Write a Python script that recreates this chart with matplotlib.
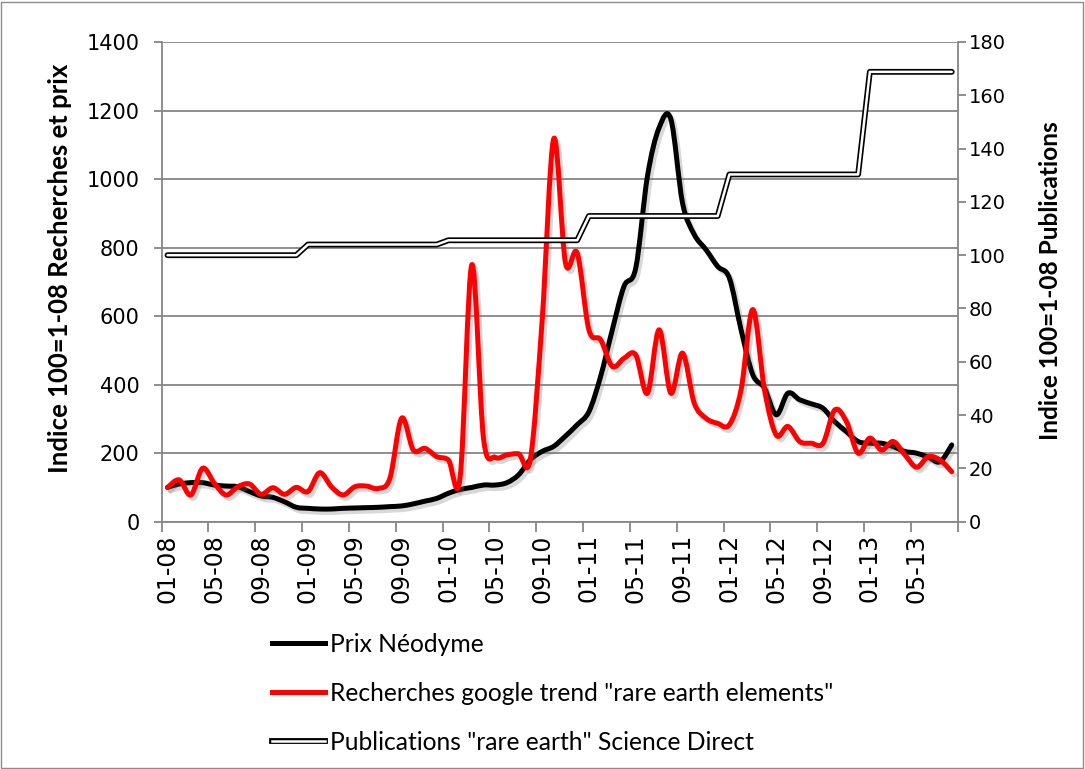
import numpy as np
import matplotlib
matplotlib.use('Agg')
import matplotlib.pyplot as plt
from matplotlib.path import Path
from matplotlib.patches import PathPatch, Rectangle
from matplotlib.lines import Line2D
import matplotlib.patheffects as pe

# monthly data, 01-2008 .. 08-2013 (index 100 = 01-08)
tick_labels = ['01-08', '05-08', '09-08', '01-09', '05-09', '09-09', '01-10', '05-10',
               '09-10', '01-11', '05-11', '09-11', '01-12', '05-12', '09-12', '01-13', '05-13']

prix = [100, 110, 114, 114, 107, 104, 102, 88, 75, 71, 58, 42, 39, 37, 37, 39,
        40, 41, 42, 44, 46, 52, 60, 68, 83, 94, 100, 107, 107, 114, 137, 181,
        205, 220, 250, 283, 321, 424, 560, 687, 740, 1008, 1150, 1175, 930, 838, 794, 745,
        711, 560, 429, 390, 312, 375, 356, 344, 331, 292, 263, 234, 229, 229, 219, 205,
        200, 188, 175, 224]

recherches = [100, 122, 78, 156, 112, 78, 102, 110, 80, 99, 80, 100, 88, 143, 102, 78,
              102, 104, 97, 127, 302, 209, 214, 190, 180, 130, 750, 242, 188, 195, 198, 183,
              585, 1118, 755, 784, 560, 531, 453, 477, 487, 375, 560, 375, 492, 346, 302, 287,
              283, 385, 619, 385, 253, 278, 234, 229, 229, 326, 292, 200, 244, 209, 234, 195,
              159, 190, 180, 146]

pub_annuel = [100, 104, 105.6, 114.7, 130.3, 168.8]
mois_par_an = [12, 12, 12, 12, 12, 8]
publications = np.repeat(pub_annuel, mois_par_an)

labels = ['Prix Néodyme',
          'Recherches google trend "rare earth elements"',
          'Publications "rare earth" Science Direct']

GRIS = '#868686'
x = np.arange(len(prix))


def smooth_path(xs, ys):
    # Excel-like smoothed line: cubic Bezier through the points
    pts = np.column_stack([xs, ys]).astype(float)
    n = len(pts)
    verts = [pts[0]]
    codes = [Path.MOVETO]
    for k in range(n - 1):
        p0 = pts[max(k - 1, 0)]
        p1, p2 = pts[k], pts[k + 1]
        p3 = pts[min(k + 2, n - 1)]
        verts += [p1 + (p2 - p0) / 6, p2 - (p3 - p1) / 6, p2]
        codes += [Path.CURVE4] * 3
    return Path(verts, codes)


fig = plt.figure(figsize=(10.85, 7.69), dpi=100)
fig.patches.append(Rectangle((0.0005, 0.001), 0.998, 0.997, transform=fig.transFigure,
                             fill=False, edgecolor='#8c8c8c', lw=1))

ax = fig.add_axes([0.149, 0.3216, 0.7336, 0.6238])
ax2 = ax.twinx()

shadow = [pe.SimpleLineShadow(offset=(2, -2.5), shadow_color='#808080', alpha=0.3), pe.Normal()]
for ys, col in [(prix, 'black'), (recherches, 'red')]:
    ax.add_patch(PathPatch(smooth_path(x, ys), fill=False, edgecolor=col, lw=3.6,
                           capstyle='round', joinstyle='round', path_effects=shadow))

double = [pe.Stroke(linewidth=4.2, foreground='black'), pe.Normal()]
ax2.plot(x, publications, color='white', lw=1.8, solid_capstyle='round',
         solid_joinstyle='round', path_effects=double)

ax.set_xlim(-0.5, len(prix) - 0.5)
ax.set_ylim(0, 1400)
ax2.set_ylim(0, 180)
ax.set_yticks(range(0, 1401, 200))
ax2.set_yticks(range(0, 181, 20))

ax.set_xticks(np.arange(-0.5, len(prix), 4))
ax.set_xticks(np.arange(0, len(prix), 4), labels=tick_labels, minor=True)
ax.tick_params(axis='x', which='major', length=7, color=GRIS, width=1.3, labelbottom=False)
ax.tick_params(axis='x', which='minor', length=0, rotation=90, labelsize=17, pad=9)
ax.tick_params(axis='y', length=6, color=GRIS, width=1.3, labelsize=15, pad=10)
ax2.tick_params(axis='y', length=6, color=GRIS, width=1.3, labelsize=14, pad=2)
for lab in ax.get_xticklabels(minor=True) + ax.get_yticklabels() + ax2.get_yticklabels():
    lab.set_family('DejaVu Sans')

ax.grid(axis='y', color=GRIS, lw=1.3)
ax.set_axisbelow(True)
for a in (ax, ax2):
    a.spines['top'].set_visible(False)
    for s in ('left', 'right', 'bottom'):
        a.spines[s].set_color(GRIS)
        a.spines[s].set_linewidth(1.3)
ax.spines['right'].set_visible(False)
ax2.spines['left'].set_visible(False)
ax2.spines['bottom'].set_visible(False)

fig.text(60 / 1085, 1 - 268 / 769, 'Indice 100=1-08 Recherches et prix', rotation=90,
         ha='center', va='center', family='Lato', weight='bold', fontsize=18.5)
fig.text(1050 / 1085, 1 - 281 / 769, 'Indice 100=1-08 Publications', rotation=90,
         ha='center', va='center', family='Lato', weight='bold', fontsize=17.6)

handles = [Line2D([], [], color='black', lw=3.6),
           Line2D([], [], color='red', lw=3.6),
           Line2D([], [], color='white', lw=1.8, path_effects=double)]
fig.legend(handles, labels, loc='upper left', bbox_to_anchor=(0.2507, 0.177),
           frameon=False, prop={'family': 'Lato', 'size': 17.7}, handlelength=2.15,
           handletextpad=0.2, labelspacing=1.05, borderpad=0, borderaxespad=0)

fig.savefig('out.png', dpi=100)
